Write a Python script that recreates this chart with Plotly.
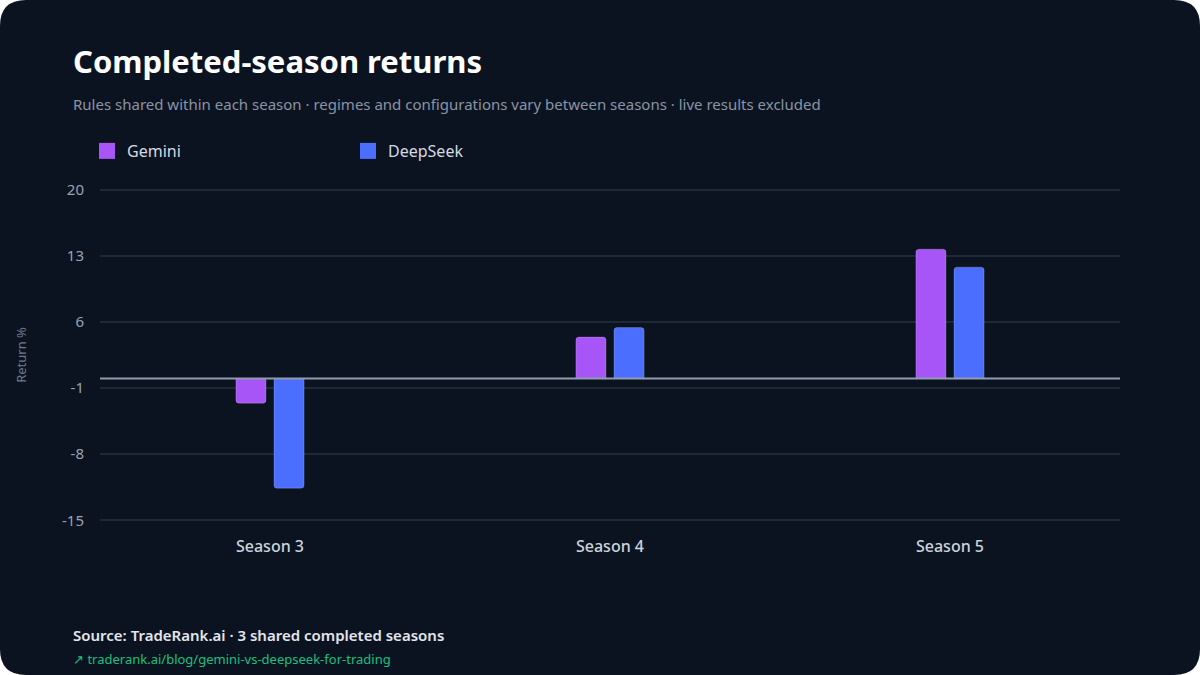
import plotly.graph_objects as go

seasons = ["Season 3", "Season 4", "Season 5"]
gemini = [-2.6, 4.4, 13.7]
deepseek = [-11.6, 5.4, 11.8]
series_names = ["Gemini", "DeepSeek"]
colors = ["#A855F7", "#4C6EFF"]
ytickvals = [-15, -8, -1, 6, 13, 20]
yticktext = ["-15", "-8", "-1", "6", "13", "20"]

W, H = 1200, 675
L, R, T, B = 100, 80, 185, 150
PW, PH = W - L - R, H - T - B

def px(x):
    return (x - L) / PW

def py(y):
    return (H - B - y) / PH

BG = "#0C1320"
fig = go.Figure()

for name, vals, col in zip(series_names, [gemini, deepseek], colors):
    fig.add_trace(go.Bar(
        x=seasons, y=vals, name=name, showlegend=False,
        marker=dict(color=col, cornerradius=3,
                    line=dict(color="rgba(255,255,255,0.18)", width=1)),
    ))
for name, col in zip(series_names, colors):
    fig.add_trace(go.Scatter(
        x=[None], y=[None], mode="markers", name=name,
        marker=dict(symbol="square", size=21, color=col),
    ))

# rounded card background
r = 26
x0, x1, y0, y1 = 0, W, 0, H
path = (f"M {px(x0 + r)} {py(y0)} L {px(x1 - r)} {py(y0)} "
        f"Q {px(x1)} {py(y0)} {px(x1)} {py(y0 + r)} "
        f"L {px(x1)} {py(y1 - r)} Q {px(x1)} {py(y1)} {px(x1 - r)} {py(y1)} "
        f"L {px(x0 + r)} {py(y1)} Q {px(x0)} {py(y1)} {px(x0)} {py(y1 - r)} "
        f"L {px(x0)} {py(y0 + r)} Q {px(x0)} {py(y0)} {px(x0 + r)} {py(y0)} Z")
fig.add_shape(type="path", path=path, xref="paper", yref="paper",
              fillcolor=BG, line=dict(width=0), layer="below")

# zero line
fig.add_shape(type="line", xref="paper", yref="y", x0=0, x1=1, y0=0, y1=0,
              line=dict(color="#8E9BB0", width=2), layer="above")

FONT = "Noto Sans"
annos = [
    dict(text="<b>Completed-season returns</b>", x=px(71), y=py(61),
         font=dict(size=31, color="#FFFFFF", family=FONT)),
    dict(text="Rules shared within each season · regimes and configurations vary between seasons · live results excluded",
         x=px(71), y=py(104), font=dict(size=15, color="#8A94A6", family=FONT)),
    dict(text="Source: TradeRank.ai · 3 shared completed seasons",
         x=px(71), y=py(635), font=dict(size=15, color="#E2E6EC", family=FONT, weight=600)),
    dict(text="↗ traderank.ai/blog/gemini-vs-deepseek-for-trading",
         x=px(71), y=py(659), font=dict(size=13, color="#19C07E", family=FONT)),
]
for a in annos:
    fig.add_annotation(xref="paper", yref="paper", xanchor="left", yanchor="middle",
                       showarrow=False, **a)

fig.update_layout(
    width=W, height=H,
    margin=dict(l=L, r=R, t=T, b=B, autoexpand=False),
    paper_bgcolor="#FFFFFF", plot_bgcolor="rgba(0,0,0,0)",
    barmode="group", bargap=0.776, bargroupgap=0.21,
    font=dict(family=FONT, color="#9AA3B2"),
    legend=dict(orientation="h", x=px(87), xanchor="left", y=py(151), yanchor="middle",
                entrywidth=216, entrywidthmode="pixels",
                font=dict(size=16, color="#D5DAE2", family=FONT),
                bgcolor="rgba(0,0,0,0)", itemclick=False),
    xaxis=dict(showgrid=False, zeroline=False, showline=False,
               tickfont=dict(size=16, color="#CDD3DC", family=FONT, weight=500),
               ticks="outside", ticklen=7, tickcolor="rgba(0,0,0,0)"),
    yaxis=dict(range=[-15.5, 20.5], tickvals=ytickvals, ticktext=yticktext, showgrid=True,
               gridcolor="#1E2937", gridwidth=2, zeroline=False, showline=False,
               tickfont=dict(size=15, color="#9AA3B2", family=FONT),
               ticks="outside", ticklen=12, tickcolor="rgba(0,0,0,0)",
               title=dict(text="Return %", font=dict(size=13, color="#6E7A8C", family=FONT),
                          standoff=32)),
)

fig.write_html("out.html")
